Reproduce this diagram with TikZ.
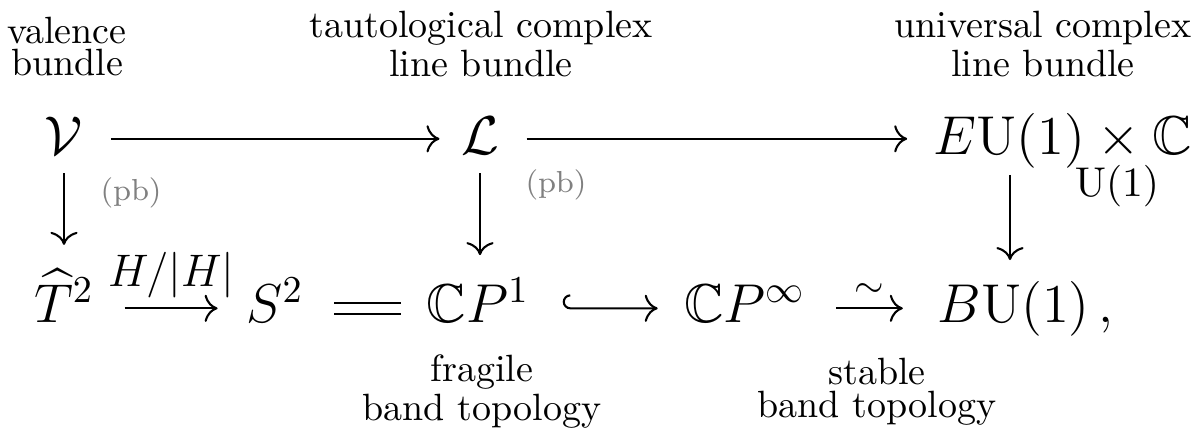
\documentclass[tikz,border=0pt]{standalone}
\usepackage{amsmath,amssymb}
\usetikzlibrary{cd}
\definecolor{pbgray}{RGB}{128,128,128}
\begin{document}
\begin{tikzpicture}[x=0.26316pt,y=-0.26316pt,
  math/.style={font=\Large, inner sep=0pt, anchor=base},
  txt/.style={align=center, inner sep=0pt, anchor=base},
  pbl/.style={font=\footnotesize, text=pbgray, inner sep=0pt, anchor=base},
  ar/.style={line width=0.55pt, -{tikzcd to}},
  eq/.style={line width=0.55pt, double, double distance=2.3pt}]
\useasboundingbox (0,0) rectangle (1192,438);
% top row
\node[math] (V) at (64,154) {$\mathcal{V}$};
\node[math] (L) at (480,154) {$\mathcal{L}$};
\node[math,anchor=base west] (EU) at (933,154) {$E\mathrm{U}(1)\times\mathbb{C}$};
\node[anchor=base, inner sep=0pt, font=\fontsize{10.5}{12}\selectfont] (EUsub) at (1117,197) {$\mathrm{U}(1)$};
% bottom row
\node[math] (T) at (64,322) {$\widehat{T}^2$};
\node[math] (S) at (275,322) {$S^2$};
\node[math] (CP1) at (478,322) {$\mathbb{C}P^1$};
\node[math] (CPi) at (745,322) {$\mathbb{C}P^\infty$};
\node[math,anchor=base west] (BU) at (937,322) {$B\mathrm{U}(1)\,,$};
% horizontal arrows
\draw[ar] ([shift={(7.1pt,4pt)}]V.base east) -- ([shift={(-5.5pt,4pt)}]L.base west);
\draw[ar] ([shift={(7.1pt,4pt)}]L.base east) -- ([shift={(-6.8pt,4pt)}]EU.base west);
\draw[ar] ([shift={(7.9pt,3.6pt)}]T.base east) -- node[anchor=base, inner sep=0pt, yshift=5.8pt, font=\fontsize{11.5}{13}\selectfont] (hl) {$H/|H|$} ([shift={(-7.4pt,3.6pt)}]S.base west);
\draw[eq] ([shift={(7.9pt,3.6pt)}]S.base east) -- ([shift={(-6.6pt,3.6pt)}]CP1.base west);
\draw[ar] ([shift={(10.6pt,7pt)}]CP1.base east) arc[start angle=90, end angle=270, radius=1.7pt] -- ([shift={(-6.8pt,3.6pt)}]CPi.base west);
\draw[ar] ([shift={(7.9pt,3.6pt)}]CPi.base east) -- node[anchor=base, inner sep=0pt, yshift=2.8pt] (tl) {$\sim$} ([shift={(-9pt,3.6pt)}]BU.base west);
% vertical arrows
\draw[ar] ([yshift=-5pt]V.base) -- ([yshift=20.3pt]T.base);
\coordinate (m1) at (L.base |- CP1.base);
\draw[ar] ([yshift=-5pt]L.base) -- ([yshift=17.6pt]m1);
\coordinate (r0) at (1010,154);
\coordinate (r1) at (1010,322);
\draw[ar] ([yshift=-5.5pt]r0) -- ([yshift=16.3pt]r1);
% pullback marks
\node[pbl] (pb1) at (131,200) {(pb)};
\node[pbl] (pb2) at (556,193) {(pb)};
% text labels
\node[txt, font=\fontsize{10}{8.4}\selectfont] (lv) at (67,75) {valence\\bundle};
\node[txt, font=\fontsize{10}{10.3}\selectfont] (lt) at (481,77) {tautological complex\\line bundle};
\node[txt, font=\fontsize{10}{10.3}\selectfont] (lu) at (1043,77) {universal complex\\line bundle};
\node[txt, font=\fontsize{10}{10}\selectfont] (lf) at (482,420) {fragile\\band topology};
\node[txt, font=\fontsize{10}{8.7}\selectfont] (ls) at (877,418) {stable\\band topology};
\end{tikzpicture}
\end{document}
